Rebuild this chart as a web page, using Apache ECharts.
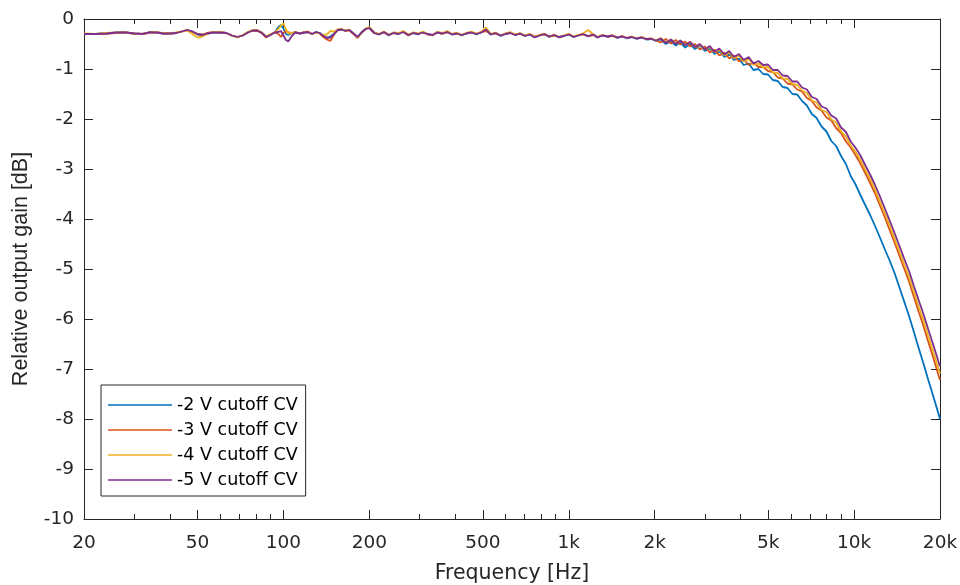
<!DOCTYPE html>
<html>
<head>
<meta charset="utf-8">
<title>Relative output gain vs frequency</title>
<script src="https://cdn.jsdelivr.net/npm/echarts@6/dist/echarts.min.js"></script>
<style>
  html, body { margin: 0; padding: 0; background: #fff; }
  #chart { width: 960px; height: 585px; }
</style>
</head>
<body>
<div id="chart"></div>
<script>
// Measurement frequencies (Hz)
const freqHz = [
  20, 22, 24, 26, 28, 30, 32, 34, 36, 38,
  40, 42, 44, 46, 48, 50, 52, 54, 57, 60,
  63, 66, 69, 72, 75, 78, 81, 84, 87, 90,
  93, 96, 98, 100, 102, 104, 107, 110, 114, 118,
  122, 126, 130, 134, 138, 142, 146, 150, 155, 160,
  165, 170, 176, 182, 188, 194,
  200, 208, 216, 225, 234, 243, 253, 263, 274, 285,
  296, 308, 320, 333, 346, 360, 375, 390, 405, 421,
  438, 456, 474, 493, 513, 533, 554, 577, 600, 624,
  649, 675, 702, 730, 759, 790, 821, 854, 888, 924,
  961, 1000, 1040, 1080, 1120, 1170, 1220, 1260, 1310, 1370,
  1420, 1480, 1540, 1600, 1660, 1730, 1800, 1870, 1950, 2020,
  2100, 2190, 2280, 2370, 2460, 2560, 2660, 2770, 2880, 3000,
  3120, 3240, 3370, 3510, 3650, 3790, 3950, 4100, 4270, 4440,
  4620, 4800, 4990, 5190, 5400, 5620, 5840, 6080, 6320, 6570,
  6830, 7110, 7390, 7690, 8000, 8320, 8650, 9000, 9360, 9730,
  10100, 10500, 11000, 11400, 11800, 12300, 12800, 13300, 13900, 14400,
  15000, 15600, 16200, 16900, 17500, 18200, 19000, 19700, 20000
];

// Relative output gain (dB) for each cutoff control voltage
const gainCv2 = [
  -0.30, -0.30, -0.29, -0.27, -0.27, -0.29, -0.30, -0.26, -0.27, -0.29,
  -0.29, -0.28, -0.25, -0.22, -0.25, -0.31, -0.32, -0.29, -0.27, -0.27,
  -0.28, -0.33, -0.36, -0.33, -0.27, -0.23, -0.23, -0.27, -0.36, -0.32,
  -0.27, -0.16, -0.12, -0.19, -0.30, -0.32, -0.28, -0.26, -0.29, -0.27,
  -0.26, -0.30, -0.26, -0.28, -0.34, -0.37, -0.35, -0.30, -0.22, -0.21,
  -0.24, -0.22, -0.29, -0.36, -0.26, -0.20,
  -0.17, -0.27, -0.31, -0.26, -0.33, -0.27, -0.30, -0.25, -0.32, -0.28,
  -0.31, -0.26, -0.30, -0.33, -0.27, -0.29, -0.25, -0.31, -0.28, -0.33,
  -0.29, -0.26, -0.31, -0.27, -0.22, -0.31, -0.28, -0.34, -0.30, -0.27,
  -0.32, -0.29, -0.34, -0.31, -0.36, -0.33, -0.30, -0.36, -0.32, -0.37,
  -0.34, -0.31, -0.36, -0.33, -0.30, -0.35, -0.31, -0.37, -0.33, -0.36,
  -0.33, -0.38, -0.35, -0.39, -0.36, -0.40, -0.37, -0.41, -0.40, -0.44,
  -0.41, -0.50, -0.44, -0.53, -0.47, -0.57, -0.50, -0.60, -0.53, -0.64,
  -0.59, -0.70, -0.64, -0.76, -0.70, -0.82, -0.79, -0.92, -0.89, -1.02,
  -1.00, -1.10, -1.11, -1.22, -1.24, -1.36, -1.38, -1.50, -1.51, -1.64,
  -1.73, -1.90, -1.98, -2.15, -2.25, -2.44, -2.54, -2.74, -2.90, -3.14,
  -3.30, -3.51, -3.75, -3.93, -4.12, -4.36, -4.60, -4.82, -5.10, -5.36,
  -5.66, -5.95, -6.26, -6.61, -6.89, -7.22, -7.57, -7.87, -8.00
];

const gainCv3 = [
  -0.30, -0.30, -0.29, -0.28, -0.27, -0.29, -0.30, -0.27, -0.27, -0.29,
  -0.29, -0.28, -0.25, -0.22, -0.26, -0.30, -0.31, -0.28, -0.26, -0.27,
  -0.28, -0.33, -0.36, -0.33, -0.27, -0.23, -0.24, -0.28, -0.37, -0.31,
  -0.27, -0.30, -0.36, -0.28, -0.24, -0.27, -0.28, -0.26, -0.29, -0.27,
  -0.26, -0.30, -0.27, -0.29, -0.36, -0.41, -0.44, -0.32, -0.22, -0.21,
  -0.23, -0.22, -0.30, -0.38, -0.27, -0.20,
  -0.18, -0.28, -0.30, -0.27, -0.32, -0.28, -0.29, -0.26, -0.33, -0.27,
  -0.30, -0.27, -0.31, -0.32, -0.26, -0.30, -0.27, -0.30, -0.29, -0.32,
  -0.28, -0.27, -0.30, -0.26, -0.24, -0.30, -0.29, -0.33, -0.29, -0.28,
  -0.31, -0.30, -0.33, -0.30, -0.35, -0.32, -0.31, -0.35, -0.33, -0.36,
  -0.33, -0.30, -0.35, -0.32, -0.31, -0.34, -0.32, -0.36, -0.32, -0.35,
  -0.34, -0.37, -0.34, -0.38, -0.35, -0.39, -0.36, -0.40, -0.39, -0.43,
  -0.47, -0.40, -0.49, -0.42, -0.51, -0.45, -0.55, -0.50, -0.61, -0.55,
  -0.67, -0.61, -0.73, -0.67, -0.79, -0.73, -0.85, -0.80, -0.92, -0.87,
  -0.96, -0.96, -1.04, -1.06, -1.17, -1.19, -1.29, -1.31, -1.41, -1.45,
  -1.58, -1.64, -1.77, -1.83, -1.97, -2.03, -2.18, -2.28, -2.45, -2.57,
  -2.72, -2.88, -3.11, -3.29, -3.47, -3.72, -3.96, -4.21, -4.49, -4.73,
  -5.00, -5.26, -5.56, -5.88, -6.14, -6.46, -6.80, -7.10, -7.22
];

const gainCv4 = [
  -0.29, -0.30, -0.28, -0.27, -0.27, -0.30, -0.30, -0.27, -0.27, -0.28,
  -0.29, -0.27, -0.25, -0.23, -0.30, -0.37, -0.35, -0.30, -0.26, -0.26,
  -0.28, -0.34, -0.37, -0.32, -0.26, -0.22, -0.22, -0.27, -0.35, -0.30,
  -0.27, -0.20, -0.13, -0.09, -0.20, -0.29, -0.28, -0.26, -0.29, -0.26,
  -0.25, -0.30, -0.27, -0.29, -0.32, -0.31, -0.24, -0.25, -0.21, -0.20,
  -0.24, -0.23, -0.28, -0.37, -0.28, -0.19,
  -0.16, -0.27, -0.30, -0.25, -0.32, -0.27, -0.28, -0.24, -0.31, -0.27,
  -0.29, -0.25, -0.30, -0.33, -0.26, -0.28, -0.24, -0.30, -0.27, -0.32,
  -0.28, -0.25, -0.29, -0.26, -0.17, -0.30, -0.27, -0.33, -0.29, -0.26,
  -0.31, -0.28, -0.33, -0.30, -0.36, -0.32, -0.29, -0.35, -0.31, -0.36,
  -0.33, -0.30, -0.35, -0.32, -0.29, -0.22, -0.31, -0.36, -0.32, -0.35,
  -0.32, -0.37, -0.34, -0.38, -0.35, -0.39, -0.36, -0.40, -0.39, -0.43,
  -0.38, -0.47, -0.41, -0.49, -0.43, -0.51, -0.46, -0.56, -0.51, -0.61,
  -0.56, -0.67, -0.62, -0.73, -0.67, -0.79, -0.73, -0.85, -0.80, -0.92,
  -0.89, -0.97, -0.96, -1.07, -1.08, -1.19, -1.20, -1.30, -1.32, -1.43,
  -1.48, -1.63, -1.67, -1.82, -1.86, -2.01, -2.07, -2.25, -2.35, -2.53,
  -2.65, -2.81, -3.04, -3.21, -3.39, -3.64, -3.88, -4.12, -4.41, -4.64,
  -4.91, -5.17, -5.46, -5.78, -6.03, -6.35, -6.68, -6.97, -7.09
];

const gainCv5 = [
  -0.30, -0.30, -0.29, -0.27, -0.27, -0.29, -0.30, -0.27, -0.27, -0.29,
  -0.29, -0.28, -0.25, -0.22, -0.25, -0.30, -0.32, -0.29, -0.27, -0.27,
  -0.28, -0.33, -0.36, -0.33, -0.27, -0.23, -0.23, -0.28, -0.36, -0.32,
  -0.27, -0.26, -0.24, -0.33, -0.42, -0.45, -0.34, -0.27, -0.29, -0.27,
  -0.26, -0.30, -0.26, -0.28, -0.34, -0.38, -0.37, -0.31, -0.22, -0.21,
  -0.24, -0.22, -0.29, -0.36, -0.27, -0.20,
  -0.18, -0.28, -0.31, -0.26, -0.32, -0.28, -0.30, -0.26, -0.32, -0.28,
  -0.30, -0.27, -0.30, -0.32, -0.27, -0.29, -0.26, -0.31, -0.29, -0.32,
  -0.29, -0.27, -0.30, -0.27, -0.21, -0.31, -0.28, -0.33, -0.30, -0.28,
  -0.32, -0.29, -0.34, -0.31, -0.37, -0.33, -0.30, -0.35, -0.32, -0.36,
  -0.34, -0.31, -0.36, -0.33, -0.30, -0.34, -0.31, -0.37, -0.33, -0.35,
  -0.33, -0.37, -0.35, -0.38, -0.36, -0.39, -0.37, -0.40, -0.40, -0.43,
  -0.39, -0.48, -0.41, -0.50, -0.43, -0.52, -0.46, -0.56, -0.50, -0.61,
  -0.54, -0.66, -0.59, -0.71, -0.64, -0.76, -0.70, -0.82, -0.76, -0.89,
  -0.84, -0.92, -0.91, -1.02, -1.02, -1.13, -1.14, -1.25, -1.25, -1.37,
  -1.41, -1.56, -1.60, -1.75, -1.79, -1.93, -1.99, -2.17, -2.26, -2.45,
  -2.57, -2.72, -2.95, -3.12, -3.30, -3.54, -3.78, -4.02, -4.30, -4.53,
  -4.80, -5.05, -5.34, -5.65, -5.90, -6.21, -6.54, -6.83, -6.95
];

const seriesNames = ['-2 V cutoff CV', '-3 V cutoff CV', '-4 V cutoff CV', '-5 V cutoff CV'];
const seriesGains = [gainCv2, gainCv3, gainCv4, gainCv5];
const seriesColors = ['#0072BD', '#D95319', '#EDB120', '#7E2F8E'];

// Labelled and unlabelled frequency ticks
const majorTicksHz = [20, 50, 100, 200, 500, 1000, 2000, 5000, 10000, 20000];
const minorTicksHz = [30, 40, 60, 70, 80, 90, 300, 400, 600, 700, 800, 900,
                      3000, 4000, 6000, 7000, 8000, 9000];

const axisColor = '#262626';
const tickFont = 'DejaVu Sans';

function freqLabel(v) {
  const r = Math.round(v);
  return r >= 1000 ? (r / 1000) + 'k' : String(r);
}

function freqAxis(position, ticks, len, showLine, showLabels) {
  return {
    type: 'log',
    logBase: 10,
    min: 20,
    max: 20000,
    position: position,
    axisLine: { show: showLine, onZero: false, lineStyle: { color: axisColor, width: 1 } },
    axisTick: { show: true, inside: true, length: len, customValues: ticks,
                lineStyle: { color: axisColor, width: 1 } },
    axisLabel: showLabels ? {
      show: true, customValues: majorTicksHz, formatter: freqLabel,
      color: '#262626', fontFamily: tickFont, fontSize: 18.5, margin: 15
    } : { show: false },
    minorTick: { show: false },
    splitLine: { show: false },
    name: showLabels ? 'Frequency [Hz]' : '',
    nameLocation: 'middle',
    nameGap: 44,
    nameTextStyle: { color: '#262626', fontFamily: tickFont, fontSize: 20.5 }
  };
}

function gainAxis(position, showLabels) {
  return {
    type: 'value',
    min: -10,
    max: 0,
    interval: 1,
    position: position,
    axisLine: { show: true, onZero: false, lineStyle: { color: axisColor, width: 1 } },
    axisTick: { show: true, inside: true, length: 9, lineStyle: { color: axisColor, width: 1 } },
    axisLabel: showLabels ? {
      show: true, color: '#262626', fontFamily: tickFont, fontSize: 18.5, margin: 10
    } : { show: false },
    splitLine: { show: false },
    name: showLabels ? 'Relative output gain [dB]' : '',
    nameLocation: 'middle',
    nameRotate: 90,
    nameGap: 52,
    nameTextStyle: { color: '#262626', fontFamily: 'Liberation Sans', fontSize: 21.5 }
  };
}

const chart = echarts.init(document.getElementById('chart'), null, { renderer: 'canvas' });

chart.setOption({
  animation: false,
  backgroundColor: '#ffffff',
  grid: { left: 84, right: 20, top: 19, bottom: 66, containLabel: false, outerBoundsMode: 'none' },
  xAxis: [
    freqAxis('bottom', majorTicksHz, 9, true, true),
    freqAxis('bottom', minorTicksHz, 5, false, false),
    freqAxis('top', majorTicksHz, 9, true, false),
    freqAxis('top', minorTicksHz, 5, false, false)
  ],
  yAxis: [
    gainAxis('left', true),
    gainAxis('right', false)
  ],
  legend: {
    left: 101,
    top: 385,
    orient: 'vertical',
    backgroundColor: '#ffffff',
    borderColor: axisColor,
    borderWidth: 1,
    padding: [11, 8, 7, 7],
    icon: 'rect',
    itemWidth: 64,
    itemHeight: 1.5,
    itemGap: 7,
    itemTextGap: 5,
    textStyle: { color: '#000', fontFamily: tickFont, fontSize: 17.5, lineHeight: 18 },
    data: seriesNames
  },
  series: seriesNames.map((name, k) => ({
    name: name,
    type: 'line',
    xAxisIndex: 0,
    yAxisIndex: 0,
    symbol: 'none',
    smooth: false,
    lineStyle: { color: seriesColors[k], width: 1.8 },
    itemStyle: { color: seriesColors[k] },
    data: freqHz.map((f, i) => [f, seriesGains[k][i]])
  }))
});
</script>
</body>
</html>
